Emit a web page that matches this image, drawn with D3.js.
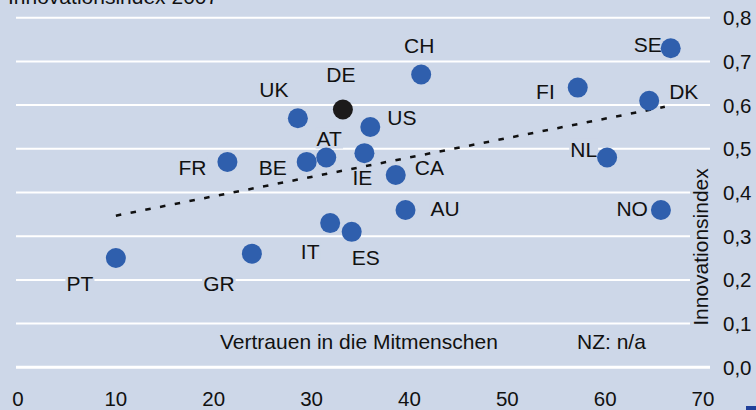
<!DOCTYPE html>
<html>
<head>
<meta charset="utf-8">
<script src="https://cdn.jsdelivr.net/npm/d3@7"></script>
<style>
  body { margin: 0; background: #cdd7e8; }
  svg { display: block; font-family: "Liberation Sans", Arial, sans-serif; }
</style>
</head>
<body>
<script>
var w = 756;
var h = 410;

// Länder, Vertrauen in die Mitmenschen (%), Innovationsindex 2007
var countries = ["CH", "DE", "UK", "US", "AT", "BE", "FR", "IE", "CA", "AU", "IT", "ES", "PT", "GR", "SE", "FI", "DK", "NL", "NO"];
var trust = [41.2, 33.2, 28.6, 36.0, 31.5, 29.5, 21.4, 35.4, 38.6, 39.6, 31.9, 34.1, 10.0, 23.9, 66.7, 57.2, 64.5, 60.2, 65.7];
var innovation = [0.67, 0.59, 0.57, 0.55, 0.48, 0.47, 0.47, 0.49, 0.44, 0.36, 0.33, 0.31, 0.25, 0.26, 0.73, 0.64, 0.61, 0.48, 0.36];

var trendX = [10, 66.1];
var trendY = [0.347, 0.596];

var xTicks = [0, 10, 20, 30, 40, 50, 60, 70];
var yTicks = [0, 0.1, 0.2, 0.3, 0.4, 0.5, 0.6, 0.7, 0.8];

// label placement relative to the dot: anchor, dx, dy (baseline)
var labelPos = {
  CH: ["middle", -2, -22], DE: ["middle", -2, -27], UK: ["middle", -24, -21],
  US: ["start", 17, -2],   AT: ["middle", 3, -12],  BE: ["end", -20, 13],
  FR: ["end", -21, 13],    IE: ["middle", -2, 32],  CA: ["start", 19, 0],
  AU: ["start", 25, 6],    IT: ["middle", -20, 36], ES: ["middle", 14, 33],
  PT: ["middle", -36, 33], GR: ["middle", -33, 37], SE: ["end", -9, 4],
  FI: ["end", -23, 11],    DK: ["start", 20, -2],   NL: ["end", -10, -1],
  NO: ["end", -13, 6]
};

var bg = "#cdd7e8";
var dotColor = "#2f5fad";

var x = d3.scaleLinear().domain([0, 70]).range([18, 703]);
var y = d3.scaleLinear().domain([0, 0.8]).range([367.3, 17.7]);

var svg = d3.select("body")
  .append("svg")
  .attr("width", w)
  .attr("height", h);

svg.append("rect")
  .attr("width", w)
  .attr("height", h)
  .attr("fill", bg);

// gridlines
svg.append("g")
  .selectAll("line")
  .data(yTicks)
  .enter()
  .append("line")
  .attr("x1", 16)
  .attr("x2", 710)
  .attr("y1", function(d) { return y(d); })
  .attr("y2", function(d) { return y(d); })
  .attr("stroke", "#fff")
  .attr("stroke-width", function(d) { return d === 0 ? 3 : 2; });

// y tick labels (right)
svg.append("g")
  .selectAll("text")
  .data(yTicks)
  .enter()
  .append("text")
  .attr("x", 723)
  .attr("y", function(d) { return y(d) + 7.5; })
  .attr("font-size", 20.5)
  .attr("fill", "#111")
  .text(function(d) { return d3.format(".1f")(d).replace(".", ","); });

// x tick labels
svg.append("g")
  .selectAll("text")
  .data(xTicks)
  .enter()
  .append("text")
  .attr("x", function(d) { return x(d); })
  .attr("y", 406)
  .attr("text-anchor", "middle")
  .attr("font-size", 20.5)
  .attr("fill", "#111")
  .text(function(d) { return d; });

// title top left
svg.append("text")
  .attr("x", 8)
  .attr("y", 4)
  .attr("font-size", 21)
  .attr("fill", "#111")
  .text("Innovationsindex 2007");

function boxedText(g, node, pad) {
  var b = node.getBBox();
  g.insert("rect", "text")
    .attr("x", b.x - pad)
    .attr("y", b.y + 1)
    .attr("width", b.width + 2 * pad)
    .attr("height", b.height - 2)
    .attr("fill", bg);
}

// rotated y title
var yt = svg.append("g").attr("transform", "translate(708,247) rotate(-90)");
var ytText = yt.append("text")
  .attr("text-anchor", "middle")
  .attr("font-size", 21)
  .attr("fill", "#111")
  .text("Innovationsindex");
boxedText(yt, ytText.node(), 2);

// x title and note
svg.append("text")
  .attr("x", 220)
  .attr("y", 349)
  .attr("font-size", 21)
  .attr("fill", "#111")
  .text("Vertrauen in die Mitmenschen");
svg.append("text")
  .attr("x", 577)
  .attr("y", 349)
  .attr("font-size", 21)
  .attr("fill", "#111")
  .text("NZ: n/a");

// country labels with background boxes
var labels = svg.append("g")
  .selectAll("g")
  .data(countries)
  .enter()
  .append("g");

labels.append("text")
  .attr("x", function(d, i) { return x(trust[i]) + labelPos[d][1]; })
  .attr("y", function(d, i) { return y(innovation[i]) + labelPos[d][2]; })
  .attr("text-anchor", function(d) { return labelPos[d][0]; })
  .attr("font-size", 21)
  .attr("fill", "#111")
  .text(function(d) { return d; });

labels.each(function() {
  var g = d3.select(this);
  boxedText(g, g.select("text").node(), 1);
});

// trend line
svg.append("line")
  .attr("x1", x(trendX[0]))
  .attr("y1", y(trendY[0]))
  .attr("x2", x(trendX[1]))
  .attr("y2", y(trendY[1]))
  .attr("stroke", "#111")
  .attr("stroke-width", 2.5)
  .attr("stroke-dasharray", "5.5,9.5");

// dots
svg.append("g")
  .selectAll("circle")
  .data(countries)
  .enter()
  .append("circle")
  .attr("cx", function(d, i) { return x(trust[i]); })
  .attr("cy", function(d, i) { return y(innovation[i]); })
  .attr("r", 10)
  .attr("fill", function(d) { return d === "DE" ? "#1c1a1a" : dotColor; });

// corner mark
svg.append("rect")
  .attr("x", 746)
  .attr("y", 406)
  .attr("width", 10)
  .attr("height", 4)
  .attr("fill", "#1f3f9a");
</script>
</body>
</html>
